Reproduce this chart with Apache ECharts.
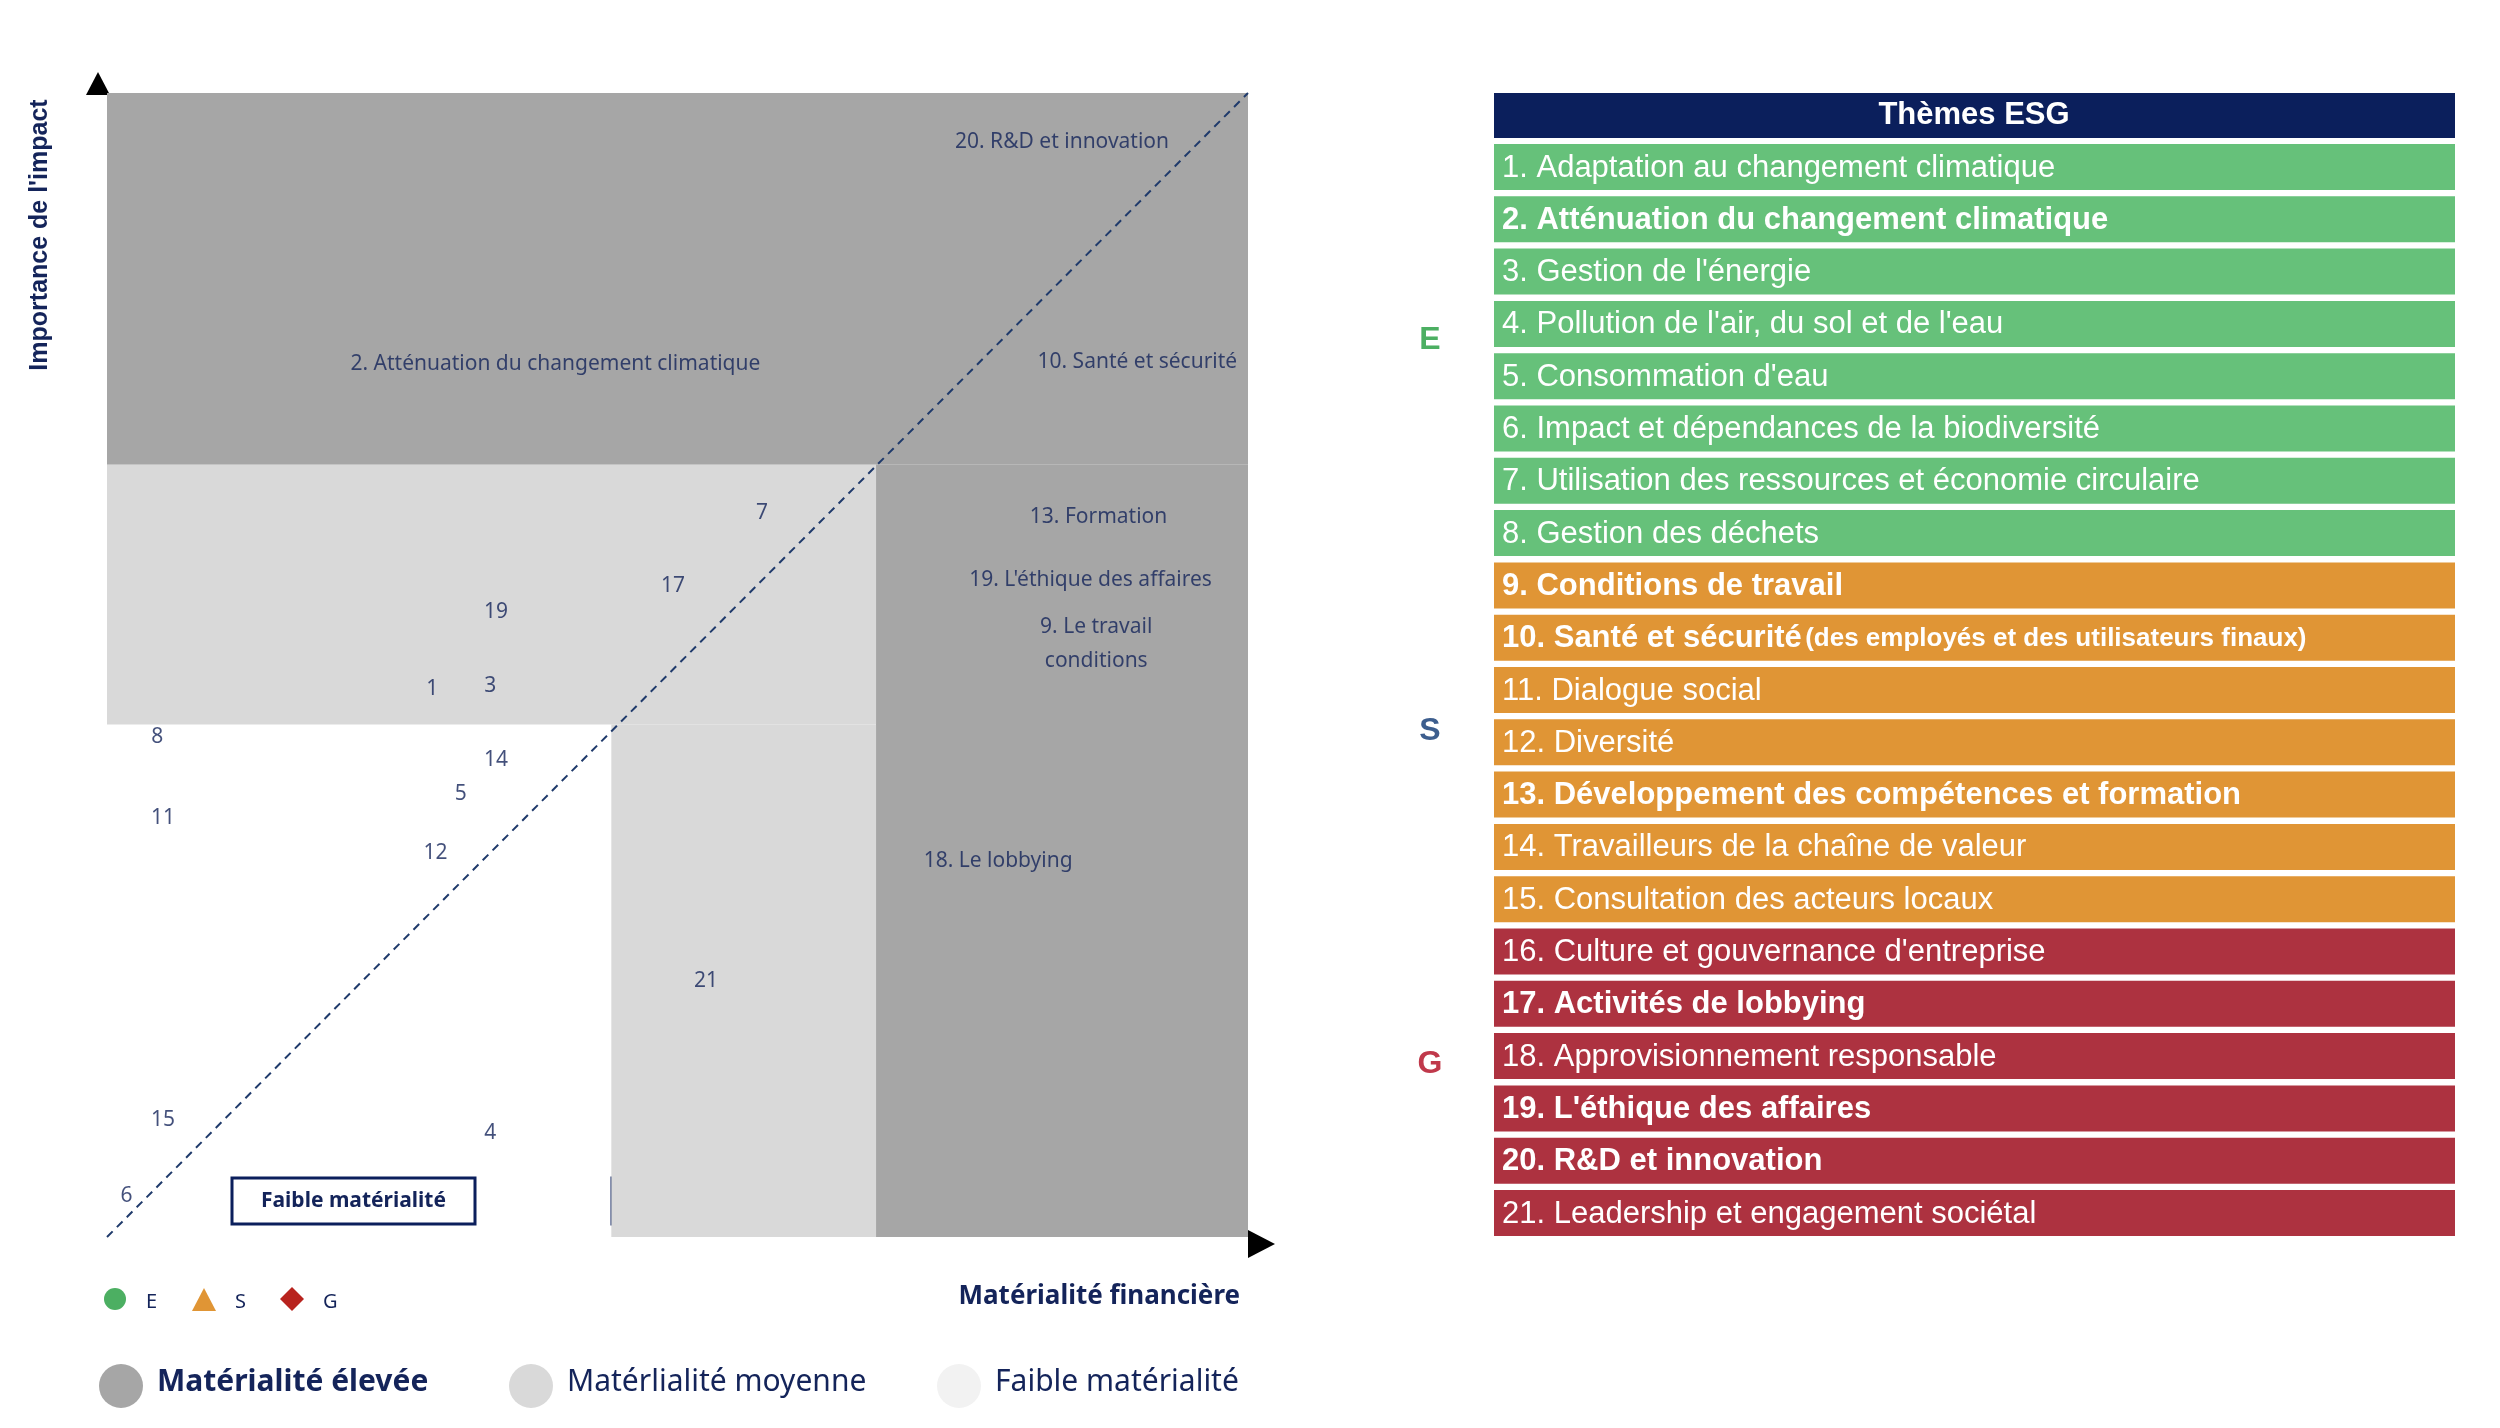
<!DOCTYPE html>
<html>
<head>
<meta charset="utf-8">
<script src="https://cdn.jsdelivr.net/npm/echarts@6/dist/echarts.min.js"></script>
<style>html,body{margin:0;padding:0;background:#fff}#main{width:2500px;height:1428px}</style>
</head>
<body>
<div id="main"></div>
<script>
// libellés de la matrice et leur position (matérialité financière, impact)
var pointLabels = ['20. R&D et innovation','2. Atténuation du changement climatique','10. Santé et sécurité','7','13. Formation',
    "19. L'éthique des affaires",'9. Le travail\nconditions','17','19','1','3','8','14','5','11','12','18. Le lobbying','21','15','4','6'];
var pointX = [8.37,3.93,9.03,5.74,8.69,8.62,8.67,4.96,3.41,2.85,3.36,0.44,3.41,3.10,0.49,2.88,7.81,5.25,0.49,3.36,0.17];
var pointY = [9.57,7.63,7.65,6.33,6.29,5.74,5.18,5.69,5.46,4.79,4.82,4.37,4.17,3.87,3.66,3.36,3.29,2.24,1.02,0.91,0.36];

// seuils des zones
var zoneHigh = [[0,6.75,10,10],[6.74,0,10,6.75]];
var zoneMid = [[0,4.48,6.74,6.75],[4.42,0,6.74,4.48]];

// thèmes ESG
var themes = ['1. Adaptation au changement climatique','2. Atténuation du changement climatique',"3. Gestion de l'énergie",
    "4. Pollution de l'air, du sol et de l'eau","5. Consommation d'eau",'6. Impact et dépendances de la biodiversité',
    '7. Utilisation des ressources et économie circulaire','8. Gestion des déchets','9. Conditions de travail',
    '10. Santé et sécurité','11. Dialogue social','12. Diversité','13. Développement des compétences et formation',
    '14. Travailleurs de la chaîne de valeur','15. Consultation des acteurs locaux',"16. Culture et gouvernance d'entreprise",
    '17. Activités de lobbying','18. Approvisionnement responsable',"19. L'éthique des affaires",'20. R&D et innovation',
    '21. Leadership et engagement sociétal'];
var themePillar = ['E','E','E','E','E','E','E','E','S','S','S','S','S','S','S','G','G','G','G','G','G'];
var themeBold = [0,1,0,0,0,0,0,0,1,1,0,0,1,0,0,0,1,0,1,1,0];
var pillarColor = {E:'#66c17a',S:'#e09535',G:'#ad3240'};

var navy = '#14245a';
var myChart = echarts.init(document.getElementById('main'));

function areas(list, color){
    return list.map(function(a){
        return [{coord:[a[0],a[1]],itemStyle:{color:color}},{coord:[a[2],a[3]]}];
    });
}

var g = [];
// tableau
g.push({type:'rect',shape:{x:1494,y:93,width:961,height:45},style:{fill:'#0b1f5c'}});
g.push({type:'text',x:1974,y:115,style:{text:'Thèmes ESG',fill:'#fff',font:'bold 31px "Liberation Sans"',align:'center',verticalAlign:'middle'}});
for(var i=0;i<themes.length;i++){
    var y0 = 144 + i*52.3;
    g.push({type:'rect',shape:{x:1494,y:y0,width:961,height:46},style:{fill:pillarColor[themePillar[i]]}});
    var t = themes[i];
    var txt = i==9 ? '{b|'+t+'} {s|(des employés et des utilisateurs finaux)}' : (themeBold[i] ? '{b|'+t+'}' : '{n|'+t+'}');
    g.push({type:'text',x:1502,y:y0+24,style:{text:txt,verticalAlign:'middle',rich:{
        n:{fill:'#fff',font:'31px "Liberation Sans"'},
        b:{fill:'#fff',font:'bold 31px "Liberation Sans"'},
        s:{fill:'#fff',font:'bold 26px "Liberation Sans"'}}}});
}
g.push({type:'text',x:1430,y:340,style:{text:'E',fill:'#4caf62',font:'bold 32px "Liberation Sans"',align:'center',verticalAlign:'middle'}});
g.push({type:'text',x:1430,y:731,style:{text:'S',fill:'#3d5e8e',font:'bold 32px "Liberation Sans"',align:'center',verticalAlign:'middle'}});
g.push({type:'text',x:1430,y:1064,style:{text:'G',fill:'#c0394b',font:'bold 32px "Liberation Sans"',align:'center',verticalAlign:'middle'}});
// flèches des axes
g.push({type:'polygon',shape:{points:[[86,95],[98,72],[110,95]]},style:{fill:'#000'}});
g.push({type:'polygon',shape:{points:[[1248,1230],[1275,1244],[1248,1258]]},style:{fill:'#000'}});
// titres des axes
g.push({type:'text',x:40,y:235,rotation:Math.PI/2,style:{text:"Importance de l'impact",fill:navy,font:'bold 25px "Liberation Sans"',align:'center',verticalAlign:'middle'}});
g.push({type:'text',x:1240,y:1297,style:{text:'Matérialité financière',fill:navy,font:'bold 26px "Noto Sans"',align:'right',verticalAlign:'middle'}});
// boîtes des zones
var boxes = [[232,243,'Faible matérialité','#fff'],[612,262,'Importance moyenne','#d9d9d9'],[938,256,'Matérialité élevée','#a6a6a6']];
boxes.forEach(function(b){
    g.push({type:'rect',shape:{x:b[0],y:1178,width:b[1],height:46},style:{fill:b[3],stroke:'#0b1f5c',lineWidth:3}});
    g.push({type:'text',x:b[0]+b[1]/2,y:1201,style:{text:b[2],fill:navy,font:'bold 21px "Noto Sans"',align:'center',verticalAlign:'middle'}});
});
// légende E S G
g.push({type:'circle',shape:{cx:115,cy:1299,r:11},style:{fill:'#4caf62'}});
g.push({type:'text',x:146,y:1302,style:{text:'E',fill:navy,font:'20px "Noto Sans"',verticalAlign:'middle'}});
g.push({type:'polygon',shape:{points:[[192,1311],[204,1288],[216,1311]]},style:{fill:'#e09535'}});
g.push({type:'text',x:235,y:1302,style:{text:'S',fill:navy,font:'20px "Noto Sans"',verticalAlign:'middle'}});
g.push({type:'polygon',shape:{points:[[292,1287],[304,1299],[292,1311],[280,1299]]},style:{fill:'#b8231e'}});
g.push({type:'text',x:323,y:1302,style:{text:'G',fill:navy,font:'20px "Noto Sans"',verticalAlign:'middle'}});
// légende des zones
var leg = [[121,'#a6a6a6','Matérialité élevée',true],[531,'#d9d9d9','Matérlialité moyenne',false],[959,'#f2f2f2','Faible matérialité',false]];
leg.forEach(function(l){
    g.push({type:'circle',shape:{cx:l[0],cy:1386,r:22},style:{fill:l[1]}});
    g.push({type:'text',x:l[0]+36,y:1382,style:{text:l[2],fill:navy,font:(l[3]?'bold ':'')+'30px "Noto Sans"',verticalAlign:'middle'}});
});

option = {
    animation:false,
    grid:{left:107,top:93,width:1141,height:1144},
    xAxis:{type:'value',min:0,max:10,show:false},
    yAxis:{type:'value',min:0,max:10,show:false},
    graphic:g,
    series:[{
        type:'scatter',symbolSize:0,
        data:pointX.map(function(x,k){return [x,pointY[k]];}),
        label:{show:true,position:'inside',color:navy,fontSize:21,lineHeight:34,fontFamily:'Noto Sans',
            formatter:function(p){return pointLabels[p.dataIndex];}},
        markArea:{silent:true,data:areas(zoneHigh,'#a6a6a6').concat(areas(zoneMid,'#d9d9d9'))},
        z:3
    },{
        type:'line',data:[[0,0],[10,10]],symbol:'none',
        lineStyle:{color:'#1f3a6b',type:[8,6],width:2},z:2
    }]
};
myChart.setOption(option,true);
</script>
</body>
</html>
